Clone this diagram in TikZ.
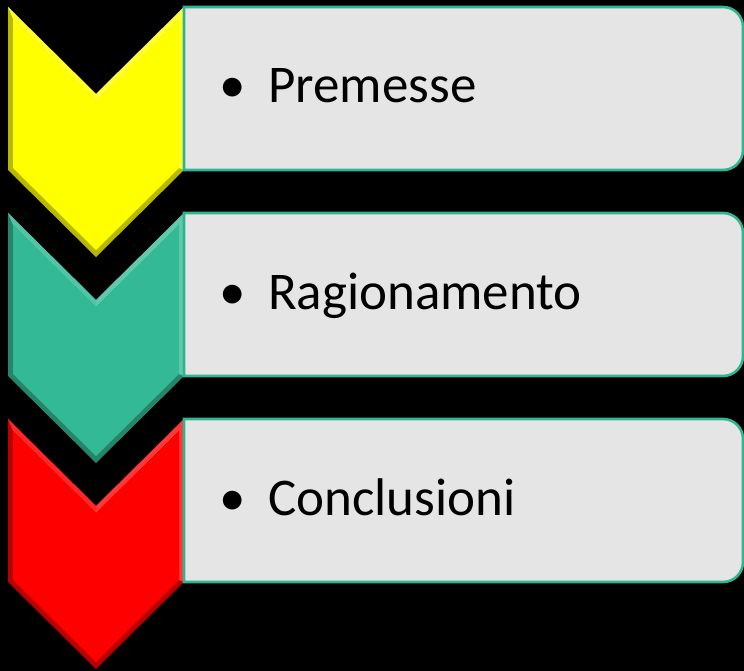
\documentclass[tikz,border=0pt]{standalone}
\usepackage{fontspec}
\setsansfont{Carlito}
\usetikzlibrary{positioning}
\definecolor{chev-yellow}{HTML}{FFFF00}
\definecolor{chev-green}{HTML}{33B995}
\definecolor{chev-red}{HTML}{FF0000}
\definecolor{box-fill}{HTML}{E5E5E5}
\definecolor{box-line}{HTML}{2EB592}
\begin{document}
\begin{tikzpicture}[x=1pt,y=-1pt]
\tikzset{every node/.style={font=\sffamily\fontsize{53}{60}\selectfont,
anchor=base west, inner sep=0pt, text=black},
stepbox/.style={draw=box-line, line width=2.6pt, fill=box-fill}}
\useasboundingbox (0,0) rectangle (744,671);
\fill[black] (0,0) rectangle (744,671);
\foreach \dy/\c/\name/\txt in {0/chev-yellow/premesse/Premesse,
  206/chev-green/ragionamento/Ragionamento,
  412/chev-red/conclusioni/Conclusioni} {
\begin{scope}[shift={(0,\dy)}]
% chevron with bevel
\fill[\c!72!black] (8,7) -- (96,94) -- (184,7) -- (184,170) -- (96,257) -- (8,170) -- cycle;
\fill[\c!85!white] (8,7) -- (96,94) -- (96,101) -- (13,19) -- cycle;
\fill[\c!78!white] (96,94) -- (184,7) -- (184,170) -- (179,168) -- (179,19) -- (96,101) -- cycle;
\fill[\c] (13,19) -- (96,101) -- (179,19) -- (179,168) -- (96,250) -- (13,168) -- cycle;
% text box
\draw[stepbox] (184,7) -- (723,7) arc[start angle=270,end angle=360,radius=20]
  -- (743,150) arc[start angle=0,end angle=90,radius=20] -- (184,170) -- cycle;
\node (\name) at (219,103) {\makebox[49pt][l]{•}\txt};
\end{scope}
}
\end{tikzpicture}
\end{document}
